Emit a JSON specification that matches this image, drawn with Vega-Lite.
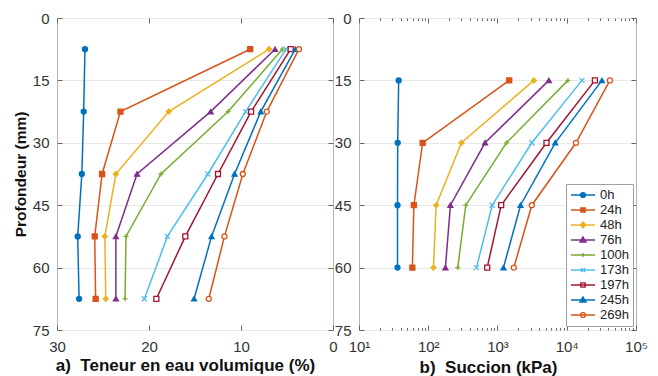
{
 "$schema": "https://vega.github.io/schema/vega-lite/v6.json",
 "padding": {"left": 12, "top": 10, "right": 5, "bottom": 0},
 "background": "white",
 "bounds": "flush",
 "spacing": 26,
 "config": {
  "font": "Liberation Sans",
  "view": {"stroke": "#b4b4b4", "strokeWidth": 1},
  "axis": {"domain": false, "labelFont": "Liberation Sans", "labelFontSize": 15, "labelColor": "#333333", "tickColor": "#666666", "tickSize": -5, "gridColor": "#e8e8e8", "titleFont": "Liberation Sans", "titleFontSize": 17, "titleFontWeight": "bold", "titleColor": "#111111", "labelFlush": false, "labelOverlap": false},
  "legend": {"labelFont": "Liberation Sans", "labelFontSize": 13, "labelColor": "#222222"}
 },
 "datasets": {
  "teneur": [
   {"serie": "0h", "depth": 7.5, "v": 26.96}, {"serie": "0h", "depth": 22.5, "v": 27.1}, {"serie": "0h", "depth": 37.5, "v": 27.3}, {"serie": "0h", "depth": 52.5, "v": 27.75}, {"serie": "0h", "depth": 67.5, "v": 27.6},
   {"serie": "24h", "depth": 7.5, "v": 9.0}, {"serie": "24h", "depth": 22.5, "v": 23.1}, {"serie": "24h", "depth": 37.5, "v": 25.1}, {"serie": "24h", "depth": 52.5, "v": 25.9}, {"serie": "24h", "depth": 67.5, "v": 25.8},
   {"serie": "48h", "depth": 7.5, "v": 6.95}, {"serie": "48h", "depth": 22.5, "v": 17.85}, {"serie": "48h", "depth": 37.5, "v": 23.6}, {"serie": "48h", "depth": 52.5, "v": 24.8}, {"serie": "48h", "depth": 67.5, "v": 24.7},
   {"serie": "76h", "depth": 7.5, "v": 6.3}, {"serie": "76h", "depth": 22.5, "v": 13.3}, {"serie": "76h", "depth": 37.5, "v": 21.3}, {"serie": "76h", "depth": 52.5, "v": 23.6}, {"serie": "76h", "depth": 67.5, "v": 23.6},
   {"serie": "100h", "depth": 7.5, "v": 5.5}, {"serie": "100h", "depth": 22.5, "v": 11.4}, {"serie": "100h", "depth": 37.5, "v": 18.7}, {"serie": "100h", "depth": 52.5, "v": 22.5}, {"serie": "100h", "depth": 67.5, "v": 22.6},
   {"serie": "173h", "depth": 7.5, "v": 5.1}, {"serie": "173h", "depth": 22.5, "v": 9.5}, {"serie": "173h", "depth": 37.5, "v": 13.6}, {"serie": "173h", "depth": 52.5, "v": 18.0}, {"serie": "173h", "depth": 67.5, "v": 20.5},
   {"serie": "197h", "depth": 7.5, "v": 4.6}, {"serie": "197h", "depth": 22.5, "v": 8.9}, {"serie": "197h", "depth": 37.5, "v": 12.5}, {"serie": "197h", "depth": 52.5, "v": 16.05}, {"serie": "197h", "depth": 67.5, "v": 19.2},
   {"serie": "245h", "depth": 7.5, "v": 4.1}, {"serie": "245h", "depth": 22.5, "v": 7.85}, {"serie": "245h", "depth": 37.5, "v": 10.7}, {"serie": "245h", "depth": 52.5, "v": 13.2}, {"serie": "245h", "depth": 67.5, "v": 15.1},
   {"serie": "269h", "depth": 7.5, "v": 3.7}, {"serie": "269h", "depth": 22.5, "v": 7.2}, {"serie": "269h", "depth": 37.5, "v": 9.8}, {"serie": "269h", "depth": 52.5, "v": 11.8}, {"serie": "269h", "depth": 67.5, "v": 13.5}
  ],
  "succion": [
   {"serie": "0h", "depth": 15, "s": 37.4}, {"serie": "0h", "depth": 30, "s": 36.2}, {"serie": "0h", "depth": 45, "s": 36}, {"serie": "0h", "depth": 60, "s": 36},
   {"serie": "24h", "depth": 15, "s": 1476}, {"serie": "24h", "depth": 30, "s": 83}, {"serie": "24h", "depth": 45, "s": 62}, {"serie": "24h", "depth": 60, "s": 59},
   {"serie": "48h", "depth": 15, "s": 3350}, {"serie": "48h", "depth": 30, "s": 302}, {"serie": "48h", "depth": 45, "s": 130}, {"serie": "48h", "depth": 60, "s": 119},
   {"serie": "76h", "depth": 15, "s": 5520}, {"serie": "76h", "depth": 30, "s": 661}, {"serie": "76h", "depth": 45, "s": 209}, {"serie": "76h", "depth": 60, "s": 177},
   {"serie": "100h", "depth": 15, "s": 10400}, {"serie": "100h", "depth": 30, "s": 1350}, {"serie": "100h", "depth": 45, "s": 348}, {"serie": "100h", "depth": 60, "s": 267},
   {"serie": "173h", "depth": 15, "s": 16600}, {"serie": "173h", "depth": 30, "s": 3130}, {"serie": "173h", "depth": 45, "s": 838}, {"serie": "173h", "depth": 60, "s": 497},
   {"serie": "197h", "depth": 15, "s": 25500}, {"serie": "197h", "depth": 30, "s": 5100}, {"serie": "197h", "depth": 45, "s": 1130}, {"serie": "197h", "depth": 60, "s": 710},
   {"serie": "245h", "depth": 15, "s": 32200}, {"serie": "245h", "depth": 30, "s": 6820}, {"serie": "245h", "depth": 45, "s": 2150}, {"serie": "245h", "depth": 60, "s": 1220},
   {"serie": "269h", "depth": 15, "s": 42000}, {"serie": "269h", "depth": 30, "s": 13600}, {"serie": "269h", "depth": 45, "s": 3130}, {"serie": "269h", "depth": 60, "s": 1720}
  ]
 },
 "hconcat": [
  {
   "width": 276, "height": 312,
   "data": {"name": "teneur"},
   "layer": [
    {
     "mark": {"type": "line", "strokeWidth": 1.5},
     "encoding": {
      "x": {"field": "v", "type": "quantitative", "scale": {"domain": [0, 30], "reverse": true, "nice": false},
            "axis": {"orient": "bottom", "values": [0, 10, 20, 30], "grid": false, "labelPadding": 14, "title": "a)\u00a0 Teneur en eau volumique (%)", "titlePadding": 3, "titleX": 128}},
      "y": {"field": "depth", "type": "quantitative", "scale": {"domain": [0, 75], "reverse": true, "nice": false},
            "axis": {"orient": "left", "values": [0, 15, 30, 45, 60, 75], "grid": true, "labelPadding": 13, "title": "Profondeur (mm)", "titleFontSize": 15.5, "titlePadding": 4}},
      "color": {"field": "serie", "type": "nominal",
                "scale": {"domain": ["0h", "24h", "48h", "76h", "100h", "173h", "197h", "245h", "269h"], "range": ["#0072BD", "#D95319", "#EDB120", "#7E2F8E", "#77AC30", "#4DBEEE", "#A2142F", "#0072BD", "#D95319"]},
                "legend": null},
      "order": {"field": "depth", "type": "quantitative"}
     }
    },
    {
     "mark": {"type": "point", "size": 25, "strokeWidth": 1.3, "opacity": 1},
     "encoding": {
      "x": {"field": "v", "type": "quantitative", "axis": {"orient": "top", "values": [0, 10, 20, 30], "labels": false, "grid": false, "title": null}},
      "y": {"field": "depth", "type": "quantitative", "axis": {"orient": "right", "values": [0, 15, 30, 45, 60, 75], "labels": false, "grid": false, "title": null}},
      "stroke": {"field": "serie", "type": "nominal",
                 "scale": {"domain": ["0h", "24h", "48h", "76h", "100h", "173h", "197h", "245h", "269h"], "range": ["#0072BD", "#D95319", "#EDB120", "#7E2F8E", "#77AC30", "#4DBEEE", "#A2142F", "#0072BD", "#D95319"]},
                 "legend": null},
      "fill": {"field": "serie", "type": "nominal",
               "scale": {"domain": ["0h", "24h", "48h", "76h", "100h", "173h", "197h", "245h", "269h"], "range": ["#0072BD", "#D95319", "#EDB120", "#7E2F8E", "transparent", "transparent", "white", "#0072BD", "white"]},
               "legend": null},
      "shape": {"field": "serie", "type": "nominal",
                "scale": {"domain": ["0h", "24h", "48h", "76h", "100h", "173h", "197h", "245h", "269h"], "range": ["circle", "square", "diamond", "triangle-up", "M0,-1V1M-1,0H1", "M-1,-1L1,1M-1,1L1,-1", "square", "triangle-up", "circle"]},
                "legend": null}
     }
    }
   ],
   "resolve": {"axis": {"x": "independent", "y": "independent"}}
  },
  {
   "width": 277, "height": 312,
   "data": {"name": "succion"},
   "layer": [
    {
     "mark": {"type": "line", "strokeWidth": 1.5},
     "encoding": {
      "x": {"field": "s", "type": "quantitative", "scale": {"type": "log", "domain": [10, 100000], "nice": false},
            "axis": {"orient": "bottom", "values": [10, 20, 30, 40, 50, 60, 70, 80, 90, 100, 200, 300, 400, 500, 600, 700, 800, 900, 1000, 2000, 3000, 4000, 5000, 6000, 7000, 8000, 9000, 10000, 20000, 30000, 40000, 50000, 60000, 70000, 80000, 90000, 100000],
                     "labelExpr": "datum.value == 10 ? '10¹' : datum.value == 100 ? '10²' : datum.value == 1000 ? '10³' : datum.value == 10000 ? '10⁴' : datum.value == 100000 ? '10⁵' : ''",
                     "tickSize": {"condition": {"test": "indexof([10,100,1000,10000,100000], datum.value) >= 0", "value": -5}, "value": -2.5},
                     "grid": false, "labelPadding": 14, "title": "b)\u00a0 Succion (kPa)", "titlePadding": 3, "titleX": 129}},
      "y": {"field": "depth", "type": "quantitative", "scale": {"domain": [0, 75], "reverse": true, "nice": false},
            "axis": {"orient": "left", "values": [0, 15, 30, 45, 60, 75], "grid": true, "labelPadding": 13, "title": null}},
      "color": {"field": "serie", "type": "nominal",
                "scale": {"domain": ["0h", "24h", "48h", "76h", "100h", "173h", "197h", "245h", "269h"], "range": ["#0072BD", "#D95319", "#EDB120", "#7E2F8E", "#77AC30", "#4DBEEE", "#A2142F", "#0072BD", "#D95319"]},
                "legend": null},
      "order": {"field": "depth", "type": "quantitative"}
     }
    },
    {
     "mark": {"type": "point", "size": 25, "strokeWidth": 1.3, "opacity": 1},
     "encoding": {
      "x": {"field": "s", "type": "quantitative",
            "axis": {"orient": "top", "values": [10, 20, 30, 40, 50, 60, 70, 80, 90, 100, 200, 300, 400, 500, 600, 700, 800, 900, 1000, 2000, 3000, 4000, 5000, 6000, 7000, 8000, 9000, 10000, 20000, 30000, 40000, 50000, 60000, 70000, 80000, 90000, 100000],
                     "tickSize": {"condition": {"test": "indexof([10,100,1000,10000,100000], datum.value) >= 0", "value": -5}, "value": -2.5},
                     "labels": false, "grid": false, "title": null}},
      "y": {"field": "depth", "type": "quantitative", "axis": {"orient": "right", "values": [0, 15, 30, 45, 60, 75], "labels": false, "grid": false, "title": null}},
      "stroke": {"field": "serie", "type": "nominal",
                 "scale": {"domain": ["0h", "24h", "48h", "76h", "100h", "173h", "197h", "245h", "269h"], "range": ["#0072BD", "#D95319", "#EDB120", "#7E2F8E", "#77AC30", "#4DBEEE", "#A2142F", "#0072BD", "#D95319"]},
                 "legend": null},
      "fill": {"field": "serie", "type": "nominal",
               "scale": {"domain": ["0h", "24h", "48h", "76h", "100h", "173h", "197h", "245h", "269h"], "range": ["#0072BD", "#D95319", "#EDB120", "#7E2F8E", "transparent", "transparent", "white", "#0072BD", "white"]},
               "legend": null},
      "shape": {"field": "serie", "type": "nominal",
                "scale": {"domain": ["0h", "24h", "48h", "76h", "100h", "173h", "197h", "245h", "269h"], "range": ["circle", "square", "diamond", "triangle-up", "M0,-1V1M-1,0H1", "M-1,-1L1,1M-1,1L1,-1", "square", "triangle-up", "circle"]},
                "legend": null}
     }
    },
    {
     "mark": {"type": "point", "size": 144, "strokeWidth": 1.4, "opacity": 0},
     "encoding": {
      "x": {"field": "s", "type": "quantitative", "axis": null},
      "y": {"field": "depth", "type": "quantitative", "axis": null},
      "stroke": {"field": "serie", "type": "nominal",
                 "scale": {"domain": ["0h", "24h", "48h", "76h", "100h", "173h", "197h", "245h", "269h"], "range": ["#0072BD", "#D95319", "#EDB120", "#7E2F8E", "#77AC30", "#4DBEEE", "#A2142F", "#0072BD", "#D95319"]},
                 "legend": {"title": null, "orient": "none", "legendX": 207, "legendY": 166, "padding": 4, "fillColor": "white", "strokeColor": "#a0a0a0", "symbolSize": 144, "symbolOffset": 6, "labelOffset": 10, "rowPadding": 1, "symbolStrokeWidth": 1.4, "symbolOpacity": 1}},
      "fill": {"field": "serie", "type": "nominal",
               "scale": {"domain": ["0h", "24h", "48h", "76h", "100h", "173h", "197h", "245h", "269h"], "range": ["#0072BD", "#D95319", "#EDB120", "#7E2F8E", "transparent", "transparent", "white", "#0072BD", "white"]},
               "legend": {"title": null, "orient": "none", "legendX": 207, "legendY": 166, "padding": 4, "fillColor": "white", "strokeColor": "#a0a0a0", "symbolSize": 144, "symbolOffset": 6, "labelOffset": 10, "rowPadding": 1, "symbolStrokeWidth": 1.4, "symbolOpacity": 1}},
      "shape": {"field": "serie", "type": "nominal",
                "scale": {"domain": ["0h", "24h", "48h", "76h", "100h", "173h", "197h", "245h", "269h"], "range": ["M-2,0H2M0.4,0A0.4,0.4,0,1,1,-0.4,0A0.4,0.4,0,1,1,0.4,0Z", "M-2,0H2M-0.35,-0.35H0.35V0.35H-0.35Z", "M-2,0H2M0,-0.5L0.45,0L0,0.5L-0.45,0Z", "M-2,0H2M0,-0.5L0.5,0.35L-0.5,0.35Z", "M-2,0H2M0,-0.35V0.35", "M-2,0H2M-0.35,-0.35L0.35,0.35M-0.35,0.35L0.35,-0.35", "M-2,0H2M-0.35,-0.35H0.35V0.35H-0.35Z", "M-2,0H2M0,-0.5L0.5,0.35L-0.5,0.35Z", "M-2,0H2M0.4,0A0.4,0.4,0,1,1,-0.4,0A0.4,0.4,0,1,1,0.4,0Z"]},
                "legend": {"title": null, "orient": "none", "legendX": 207, "legendY": 166, "padding": 4, "fillColor": "white", "strokeColor": "#a0a0a0", "symbolSize": 144, "symbolOffset": 6, "labelOffset": 10, "rowPadding": 1, "symbolStrokeWidth": 1.4, "symbolOpacity": 1}}
     }
    }
   ],
   "resolve": {"axis": {"x": "independent", "y": "independent"}, "scale": {"shape": "independent", "fill": "independent", "stroke": "independent"}}
  }
 ],
 "resolve": {"scale": {"x": "independent", "y": "independent"}, "legend": {"stroke": "independent", "fill": "independent", "shape": "independent"}}
}
